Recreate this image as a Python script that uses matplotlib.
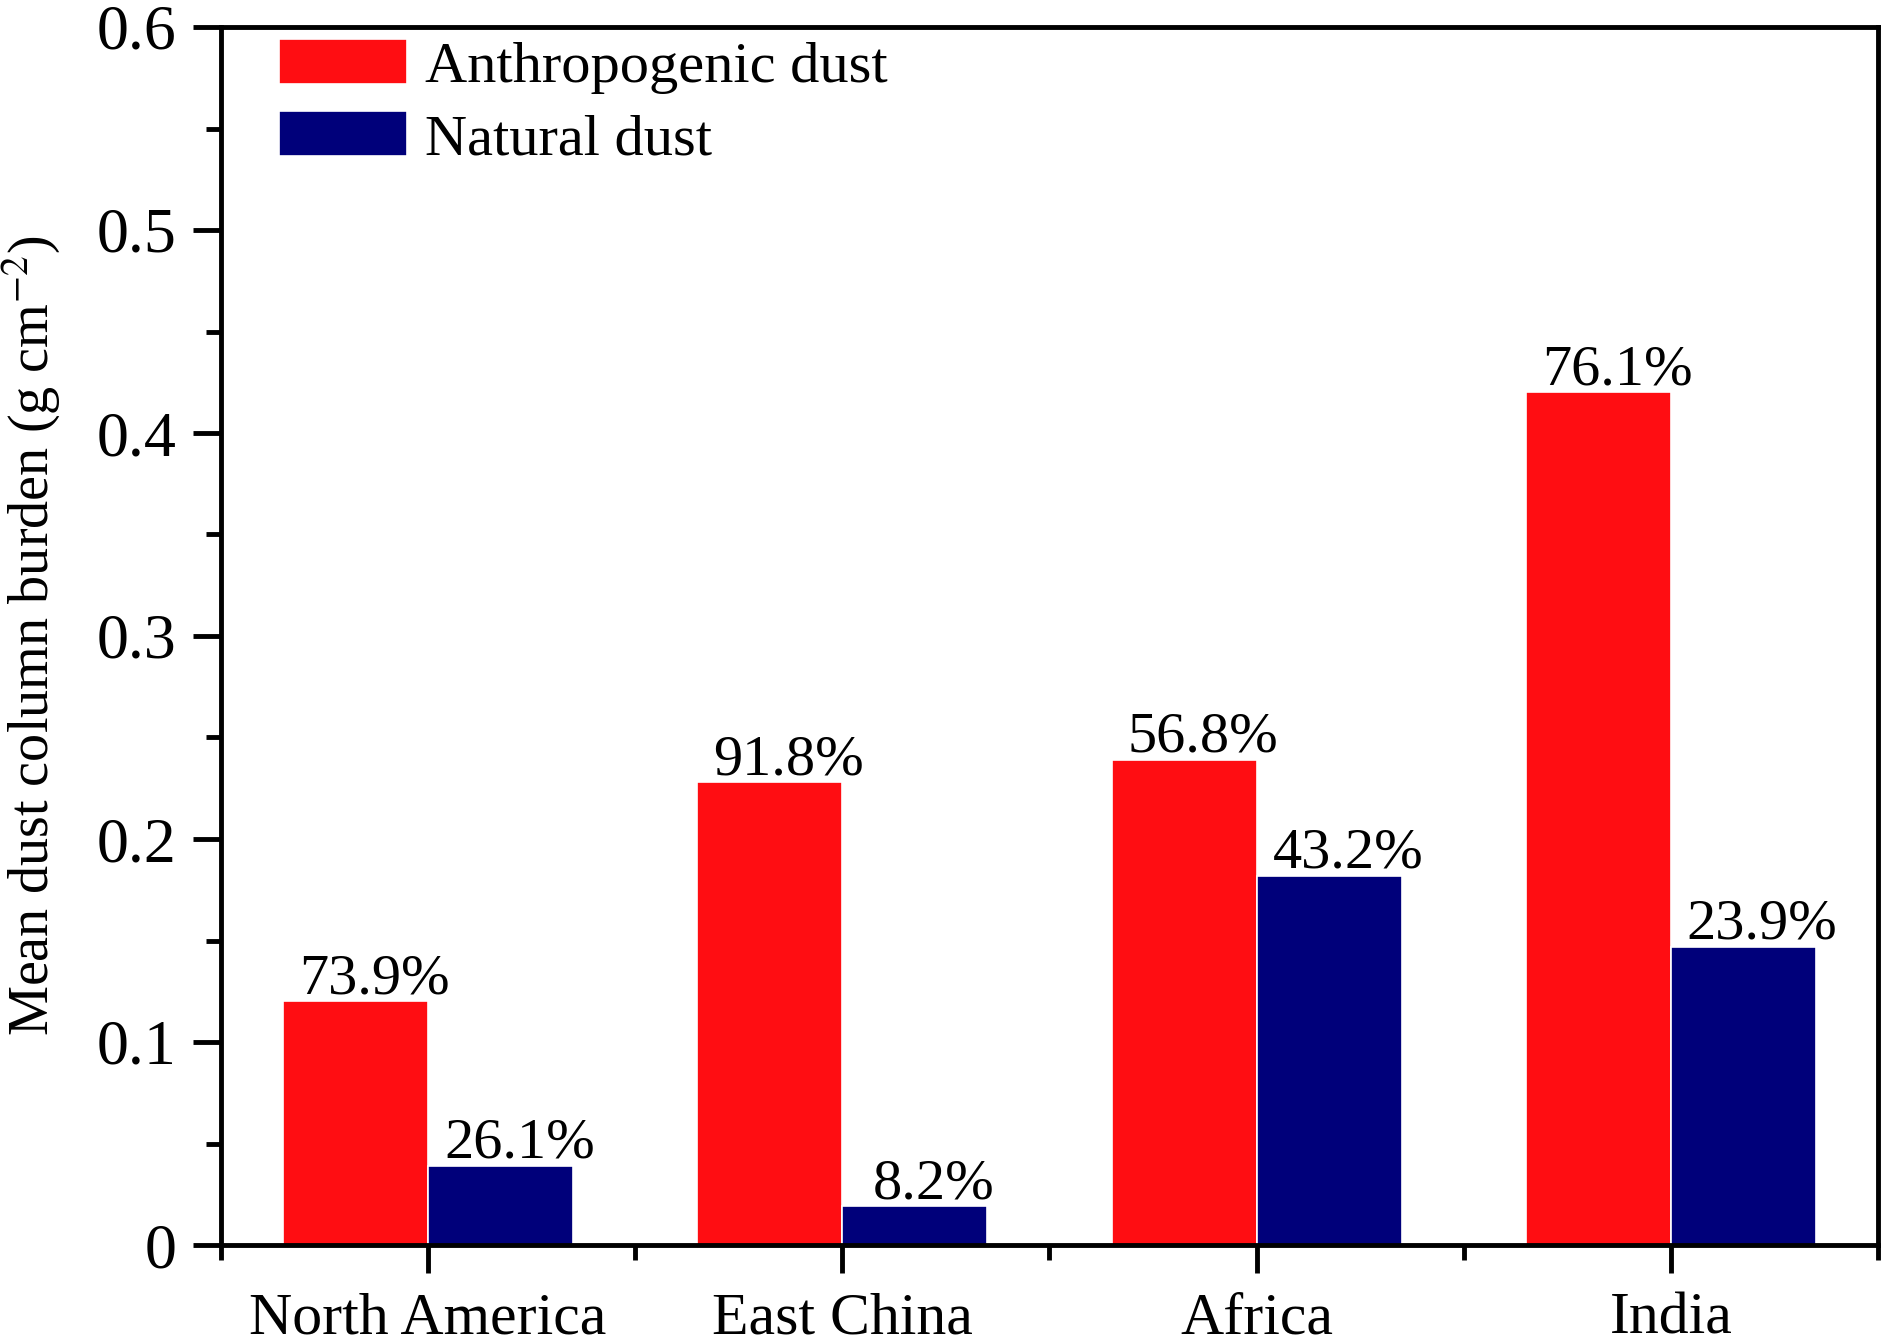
import numpy as np
import matplotlib.pyplot as plt
from matplotlib.ticker import MultipleLocator, FixedLocator, FuncFormatter

plt.rcParams['font.family'] = ['Liberation Serif', 'DejaVu Serif']
plt.rcParams['mathtext.fontset'] = 'stix'

# data
regions = ["North America", "East China", "Africa", "India"]
anthro = [0.120, 0.228, 0.239, 0.420]
natural = [0.039, 0.019, 0.182, 0.147]
anthro_pct = ["73.9%", "91.8%", "56.8%", "76.1%"]
natural_pct = ["26.1%", "8.2%", "43.2%", "23.9%"]

x = np.arange(len(regions))
w = 0.35

fig = plt.figure(figsize=(18.9, 13.43), dpi=100)
ax = fig.add_axes([221 / 1890, 1 - 1245 / 1343, (1878 - 221) / 1890, (1245 - 27) / 1343])

b1 = ax.bar(x - w / 2, anthro, w, color="#FF0D12", edgecolor="white", linewidth=1.2,
            label="Anthropogenic dust")
b2 = ax.bar(x + w / 2, natural, w, color="#00007A", edgecolor="white", linewidth=1.2,
            label="Natural dust")

for bars, labs in [(b1, anthro_pct), (b2, natural_pct)]:
    for r, t in zip(bars, labs):
        ax.text(r.get_x() + r.get_width() / 2 + 0.045, r.get_height() - 0.002, t,
                ha="center", va="bottom", fontsize=42)

ax.set_xlim(-0.5, 3.5)
ax.set_ylim(0, 0.6)
ax.set_xticks(x)
ax.set_xticklabels(regions)
ax.xaxis.set_minor_locator(FixedLocator(np.arange(-0.5, 4, 1)))
ax.yaxis.set_major_locator(MultipleLocator(0.1))
ax.yaxis.set_minor_locator(MultipleLocator(0.05))
ax.yaxis.set_major_formatter(FuncFormatter(lambda v, p: "0" if abs(v) < 1e-9 else f"{v:.1f}"))

for s in ax.spines.values():
    s.set_linewidth(3.5)
ax.tick_params(axis="both", which="major", direction="out", width=3.5, length=20,
               labelsize=46, pad=12)
ax.tick_params(axis="both", which="minor", direction="out", width=3.5, length=11)
ax.tick_params(axis="x", which="major", labelsize=43, pad=14)

ax.set_ylabel(r"Mean dust column burden (g cm$^{-2}$)", fontsize=40.5)
ax.yaxis.set_label_coords(-0.096, 0.5)

ax.legend(loc="upper left", bbox_to_anchor=(0.021, 1.009), frameon=False, fontsize=42,
          handlelength=2.2, handleheight=0.8, labelspacing=0.3, handletextpad=0.3,
          borderaxespad=0.3, borderpad=0.1)

fig.savefig("out.png", dpi=100)
